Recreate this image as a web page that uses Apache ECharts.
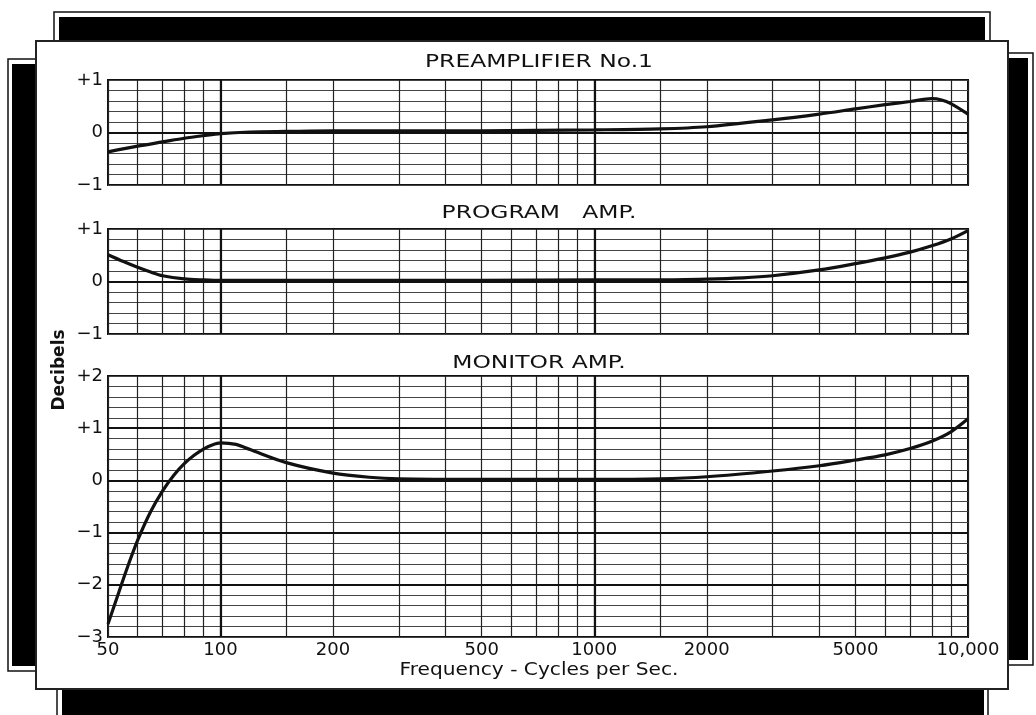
<!DOCTYPE html>
<html><head><meta charset="utf-8">
<script src="https://cdn.jsdelivr.net/npm/echarts@6.0.0/dist/echarts.min.js"></script>
<style>html,body{margin:0;padding:0;background:#fff}#c{width:1036px;height:715px}</style>
</head><body><div id="c"></div>
<script>
// ---- data ----
const panelTitles = ['PREAMPLIFIER No.1', 'PROGRAM   AMP.', 'MONITOR AMP.'];
const yAxisName = 'Decibels';
const xAxisName = 'Frequency - Cycles per Sec.';
const xLabelValues = [50, 100, 200, 500, 1000, 2000, 5000, 10000];
const gridFreqs = [50, 60, 70, 80, 90, 100, 150, 200, 300, 400, 500, 600, 700, 800, 900, 1000,
                   1500, 2000, 3000, 4000, 5000, 6000, 7000, 8000, 9000, 10000];
const heavyFreqs = [100, 1000];

const preFreq = [50, 60, 70, 80, 90, 100, 120, 150, 200, 300, 500, 700, 1000, 1500, 2000, 3000, 4000, 5000, 6000, 7000, 8000, 8500, 9000, 10000];
const preDb   = [-0.37, -0.26, -0.18, -0.11, -0.06, -0.02, 0.01, 0.02, 0.03, 0.03, 0.03, 0.04, 0.05, 0.07, 0.11, 0.24, 0.35, 0.45, 0.53, 0.59, 0.645, 0.62, 0.55, 0.35];

const progFreq = [50, 55, 60, 65, 70, 80, 90, 100, 150, 200, 300, 500, 1000, 1500, 2000, 2500, 3000, 4000, 5000, 6000, 7000, 8000, 9000, 10000];
const progDb   = [0.51, 0.38, 0.27, 0.18, 0.11, 0.05, 0.03, 0.02, 0.02, 0.02, 0.02, 0.02, 0.03, 0.03, 0.045, 0.07, 0.11, 0.22, 0.34, 0.45, 0.56, 0.68, 0.81, 0.97];

const monFreq = [50, 53, 56, 60, 65, 70, 75, 80, 85, 90, 95, 100, 110, 120, 150, 200, 250, 300, 500, 1000, 1500, 2000, 3000, 4000, 5000, 6000, 7000, 8000, 9000, 10000];
const monDb   = [-2.75, -2.22, -1.72, -1.15, -0.6, -0.2, 0.1, 0.32, 0.48, 0.6, 0.68, 0.72, 0.69, 0.59, 0.34, 0.14, 0.06, 0.03, 0.02, 0.02, 0.03, 0.07, 0.18, 0.28, 0.39, 0.49, 0.61, 0.75, 0.93, 1.18];

const yRanges = [[-1, 1], [-1, 1], [-3, 2]];
const heavyDb = [[0], [0], [1, 0, -1, -2]];

// ---- chart ----
const FONT = '"DejaVu Sans", "Liberation Sans", sans-serif';
const gridBoxes = [
  {top: 80, height: 105},
  {top: 229, height: 105},
  {top: 376, height: 261}
];
function yLabel(v) {
  const r = Math.round(v);
  if (Math.abs(v - r) > 1e-6) return '';
  if (r > 0) return '+' + r;
  if (r === 0) return '0';
  return '\u2212' + Math.abs(r);
}
function xLabel(v) {
  return v === 10000 ? '10,000' : String(v);
}
const seriesData = [
  preFreq.map((f, i) => [f, preDb[i]]),
  progFreq.map((f, i) => [f, progDb[i]]),
  monFreq.map((f, i) => [f, monDb[i]])
];

const grid = gridBoxes.map(g => ({
  left: 108, width: 860, top: g.top, height: g.height,
  show: true, borderColor: '#111', borderWidth: 2, backgroundColor: 'transparent'
}));
const xAxis = gridBoxes.map((g, i) => ({
  type: 'log', logBase: 10, min: 50, max: 10000, gridIndex: i,
  axisLine: {show: false},
  axisTick: {show: false, customValues: gridFreqs},
  axisLabel: {show: i === 2, customValues: xLabelValues, formatter: xLabel,
              color: '#111', fontFamily: FONT, fontSize: 18, margin: 4},
  splitLine: {show: true, lineStyle: {color: '#222', width: 1.2}},
  minorSplitLine: {show: false}
}));
const yAxis = gridBoxes.map((g, i) => ({
  type: 'value', gridIndex: i, min: yRanges[i][0], max: yRanges[i][1], interval: 0.2,
  axisLine: {show: false}, axisTick: {show: false},
  axisLabel: {formatter: yLabel, color: '#111', fontFamily: FONT, fontSize: 18, margin: 5},
  splitLine: {show: true, lineStyle: {color: '#444', width: 1}}
}));
const series = seriesData.map((d, i) => ({
  type: 'line', xAxisIndex: i, yAxisIndex: i, data: d,
  smooth: 0.3, symbol: 'none', lineStyle: {color: '#111', width: 3.2}, z: 5,
  markLine: {
    silent: true, symbol: 'none', label: {show: false}, animation: false,
    lineStyle: {color: '#111', type: 'solid', width: 2.2},
    data: heavyFreqs.map(f => ({xAxis: f})).concat(heavyDb[i].map(v => ({yAxis: v})))
  }
}));

const titleY = [62, 213, 363];
const graphic = [
  // black frame bands behind the card
  {type: 'rect', z: -3, shape: {x: 54, y: 12, width: 936, height: 34}, style: {fill: '#fff', stroke: '#111', lineWidth: 1.5}},
  {type: 'rect', z: -2, shape: {x: 59, y: 17, width: 926, height: 29}, style: {fill: '#000'}},
  {type: 'rect', z: -3, shape: {x: 8, y: 59, width: 34, height: 612}, style: {fill: '#fff', stroke: '#111', lineWidth: 1.5}},
  {type: 'rect', z: -2, shape: {x: 12, y: 64, width: 30, height: 602}, style: {fill: '#000'}},
  {type: 'rect', z: -3, shape: {x: 1000, y: 53, width: 33, height: 612}, style: {fill: '#fff', stroke: '#111', lineWidth: 1.5}},
  {type: 'rect', z: -2, shape: {x: 1000, y: 58, width: 28, height: 602}, style: {fill: '#000'}},
  {type: 'rect', z: -3, shape: {x: 57, y: 680, width: 931, height: 45}, style: {fill: '#fff', stroke: '#111', lineWidth: 1.5}},
  {type: 'rect', z: -2, shape: {x: 62, y: 685, width: 922, height: 40}, style: {fill: '#000'}},
  // white card
  {type: 'rect', z: -1, shape: {x: 36, y: 41, width: 972, height: 648}, style: {fill: '#fff', stroke: '#222', lineWidth: 2}}
].concat(panelTitles.map((t, i) => ({
  type: 'text', x: 539, y: titleY[i], scaleX: 1.3, z: 10,
  style: {text: t, font: '18px ' + FONT, fill: '#111', textAlign: 'center', textVerticalAlign: 'middle'}
}))).concat([
  {type: 'text', x: 60, y: 370, rotation: Math.PI / 2, z: 10,
   style: {text: yAxisName, font: 'bold 17px ' + FONT, fill: '#111', textAlign: 'center', textVerticalAlign: 'middle'}},
  {type: 'text', x: 539, y: 670, scaleX: 1.12, z: 10,
   style: {text: xAxisName, font: '18px ' + FONT, fill: '#111', textAlign: 'center', textVerticalAlign: 'middle'}}
]);

const chart = echarts.init(document.getElementById('c'), null, {renderer: 'canvas'});
chart.setOption({
  animation: false,
  backgroundColor: '#fff',
  grid, xAxis, yAxis, series, graphic
});
</script>
</body></html>
